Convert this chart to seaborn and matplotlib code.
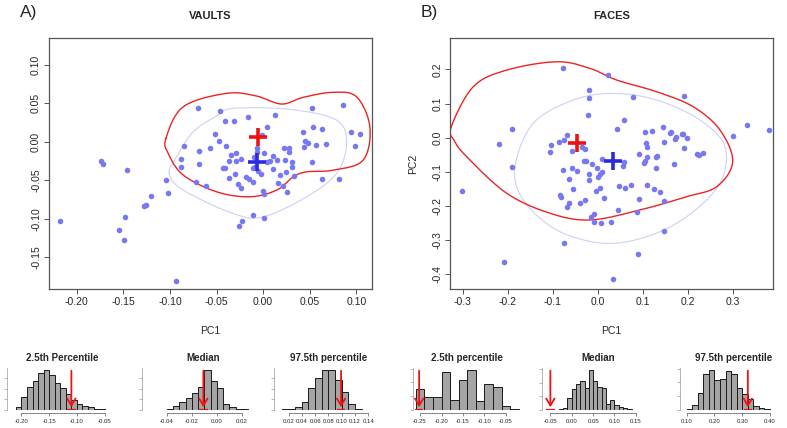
import numpy as np
import pandas as pd
import matplotlib
matplotlib.use('Agg')
import matplotlib.pyplot as plt
import seaborn as sns

# scatter points (PC1, PC2)
vaults_pc1 = [-0.174, -0.1715, -0.146, -0.2175, -0.104, -0.102, -0.120, -0.1275, -0.1257, -0.1486,
              -0.155, -0.149, -0.094, -0.088, -0.0885, -0.069, -0.072, -0.070, -0.0847, -0.0464,
              -0.0414, -0.031, -0.016, 0.0125, 0.052, 0.0854, 0.0937, 0.1036, 0.098, 0.0533,
              0.0626, 0.0422, 0.045, 0.048, 0.0565, 0.0672, 0.0433, 0.0522, 0.0636, 0.0818,
              0.0043, -0.001, -0.0514, -0.0475, -0.040, -0.0575, -0.0689, -0.0614, -0.0343, -0.029,
              -0.037, -0.029, -0.0242, -0.0432, -0.0414, -0.030, -0.037, -0.027, -0.024, -0.0185,
              -0.0153, -0.0107, -0.007, -0.0064, 0.001, -0.010, -0.0086, -0.0114, -0.006, -0.0028,
              0.004, 0.0069, 0.0104, 0.0107, 0.015, 0.0229, 0.0219, 0.0272, 0.0275, 0.0304,
              0.0304, 0.024, 0.0176, 0.0329, 0.0154, 0.0211, 0.0254, 0.0, 0.0008, -0.0114,
              0.0008, -0.0232, -0.026]
vaults_pc2 = [-0.025, -0.029, -0.037, -0.103, -0.049, -0.066, -0.070, -0.0835, -0.082, -0.0974,
              -0.114, -0.128, -0.180, -0.0225, -0.0325, -0.029, -0.052, 0.044, -0.0052, 0.0395,
              0.0269, 0.0265, 0.032, 0.0343, 0.0438, 0.048, 0.013, 0.010, -0.006, 0.0187,
              0.0165, 0.0126, 0.0005, -0.0013, -0.0039, -0.0034, -0.0065, -0.0264, -0.048, -0.048,
              0.0195, 0.009, 0.010, 0.0009, -0.0056, -0.0086, -0.0121, -0.0567, -0.0173, -0.0147,
              -0.0247, -0.0247, -0.022, -0.0342, -0.0342, -0.0424, -0.0467, -0.055, -0.060, -0.0454,
              -0.0484, -0.0528, -0.0086, -0.0134, -0.0151, -0.0203, -0.0333, -0.0346, -0.0385, -0.042,
              -0.0264, -0.0255, -0.0355, -0.018, -0.023, -0.023, -0.0086, -0.0082, -0.0138, -0.0264,
              -0.0333, -0.039, -0.0437, -0.045, -0.0536, -0.0571, -0.0653, -0.064, -0.068, -0.0952,
              -0.0987, -0.1034, -0.1087]

faces_pc1 = [-0.0764, 0.0222, -0.0193, -0.0187, 0.0777, 0.1924, -0.0209, 0.0584, 0.0429, -0.1897,
             -0.2187, -0.1897, -0.3014, 0.3319, 0.3813, 0.3013, -0.0689, -0.0755, -0.0853, -0.1039,
             -0.1054, -0.0577, -0.0355, -0.0276, -0.0305, -0.0266, -0.0133, 0.0088, -0.0022, 0.0096,
             0.0058, 0.0007, -0.0193, -0.0200, -0.0778, -0.0571, -0.0459, -0.0631, -0.0549, -0.0846,
             -0.0824, -0.0642, -0.0682, -0.0394, -0.0290, -0.0045, 0.0051, 0.0147, -0.0155, -0.0089,
             -0.0089, 0.0067, 0.0302, 0.0451, 0.0466, 0.0607, 0.0740, 0.0584, 0.0563, 0.0926,
             0.1051, 0.1213, 0.1066, 0.1089, 0.1096, 0.1044, 0.1037, 0.1288, 0.1317, 0.1296,
             0.1451, 0.1470, 0.1600, 0.1636, 0.1718, 0.1748, 0.1867, 0.1896, 0.1991, 0.1924,
             0.2200, 0.2258, 0.2347, 0.1693, 0.0926, 0.1096, 0.1251, 0.1385, 0.1480, 0.0866,
             0.1470, -0.0755, 0.0889, -0.2076, 0.0333]
faces_pc2 = [0.2049, 0.1826, 0.1396, 0.117, 0.118, 0.123, 0.0673, 0.0527, 0.0255, 0.0255,
             -0.0176, -0.0858, -0.155, 0.038, 0.0225, 0.005, 0.007, -0.0059, -0.0117, -0.0205,
             -0.041, -0.038, -0.0281, -0.034, -0.068, -0.068, -0.078, -0.063, -0.0878, -0.0995,
             -0.106, -0.116, -0.106, -0.1238, -0.0955, -0.0887, -0.0966, -0.120, -0.151, -0.167,
             -0.1736, -0.192, -0.2019, -0.190, -0.182, -0.156, -0.146, -0.1775, -0.233, -0.2233,
             -0.2458, -0.2497, -0.2458, -0.2116, -0.1424, -0.1463, -0.1394, -0.0711, -0.0828, -0.0486,
             0.0167, 0.0196, -0.0165, -0.0263, -0.0565, -0.069, -0.075, -0.0575, -0.0546, -0.0877,
             0.0322, -0.0117, 0.0129, 0.0176, -0.0047, 0.0012, 0.0117, 0.0108, -0.0018, -0.031,
             -0.0477, -0.0497, -0.0439, -0.078, -0.1794, -0.1394, -0.151, -0.160, -0.1853, -0.2185,
             -0.273, -0.308, -0.3395, -0.3647, -0.4145]

# mean markers: (red, blue)
vaults_red = (-0.0054, 0.0057)
vaults_blue = (-0.007, -0.026)
faces_red = (-0.0467, -0.0165)
faces_blue = (0.0333, -0.0673)

# contour outlines
vaults_red_c1 = [-0.1043, -0.1018, -0.0857, -0.0499, -0.0143, 0.0144, 0.0322, 0.0465, 0.075, 0.1072,
                 0.1144, 0.1001, 0.075, 0.0429, 0.0197, -0.0071, -0.0392, -0.0857]
vaults_red_c2 = [0.0044, -0.0151, -0.0432, -0.0649, -0.0714, -0.0627, -0.0455, -0.039, -0.0368, -0.0238,
                 0.0195, 0.0584, 0.0642, 0.0577, 0.049, 0.0594, 0.0629, 0.0455]
vaults_blue_c1 = [-0.1008, -0.0857, -0.0322, 0.0, 0.0465, 0.0787, 0.0894, 0.0787, 0.0286, -0.0322,
                  -0.0499, -0.075, -0.0928]
vaults_blue_c2 = [-0.041, -0.0627, -0.093, -0.0974, -0.0714, -0.041, -0.0021, 0.0282, 0.0421, 0.0434,
                  0.0334, 0.013, -0.0195]
faces_red_c1 = [-0.3255, -0.3195, -0.2911, -0.2022, -0.1060, -0.0172, 0.0940, 0.1977, 0.2645, 0.3000,
                0.2718, 0.2124, 0.1311, 0.0422, -0.0172, -0.0911, -0.2022, -0.2765]
faces_red_c2 = [0.0322, -0.0067, -0.0556, -0.1627, -0.2212, -0.2409, -0.2116, -0.1727, -0.1434, -0.0702,
                0.0225, 0.0907, 0.1346, 0.1689, 0.2031, 0.2224, 0.1981, 0.1493]
faces_blue_c1 = [-0.1837, -0.1654, -0.0911, 0.0125, 0.1089, 0.1977, 0.2718, 0.2828, 0.2274, 0.1311,
                 0.0347, -0.0542, -0.1432]
faces_blue_c2 = [-0.0849, -0.1823, -0.2701, -0.309, -0.2897, -0.2312, -0.1335, -0.0263, 0.0518, 0.1103,
                 0.1299, 0.1103, 0.0421]

# bootstrap histograms: first bin edge, bin width, counts, observed value
hist_titles = ['2.5th Percentile', 'Median', '97.5th percentile',
               '2.5th percentile', 'Median', '97.5th percentile']
hist_start = [-0.21, -0.06, 0.01, -0.26, -0.03, 0.10]
hist_width = [0.01, 0.005, 0.01, 0.02, 0.01, 0.02]
hist_counts = [
    [13, 49, 88, 108, 140, 153, 131, 101, 85, 61, 38, 23, 16, 10, 5, 3, 1],
    [1, 1, 1, 1, 4, 20, 38, 56, 81, 108, 191, 139, 103, 29, 13, 5, 3],
    [3, 5, 13, 30, 81, 120, 152, 151, 113, 69, 22, 4, 1, 1],
    [62, 38, 38, 110, 29, 87, 117, 26, 75, 67, 12, 2],
    [2, 7, 35, 62, 77, 85, 65, 118, 85, 67, 65, 17, 30, 15, 9, 5, 2, 1, 1],
    [3, 14, 50, 103, 117, 88, 90, 112, 103, 63, 47, 33, 12, 5, 2, 1, 1],
]
hist_observed = [-0.110, -0.0107, 0.099, -0.252, -0.050, 0.32]
hist_xlim = [(-0.226, -0.026), (-0.0598, 0.0386), (-0.0018, 0.162),
             (-0.2663, -0.0174), (-0.0696, 0.195), (0.076, 0.461)]
hist_ticks = [[-0.20, -0.15, -0.10, -0.05], [-0.04, -0.02, 0.00, 0.02],
              [0.02, 0.04, 0.06, 0.08, 0.10, 0.12, 0.14],
              [-0.25, -0.20, -0.15, -0.10, -0.05], [-0.05, 0.00, 0.05, 0.10, 0.15],
              [0.10, 0.20, 0.30, 0.40]]

sns.set_style('white')
plt.rcParams['font.family'] = ['Liberation Sans', 'DejaVu Sans']
plt.rcParams['axes.unicode_minus'] = False

W, H = 787, 428
fig = plt.figure(figsize=(W / 100, H / 100), dpi=100)


def px_axes(x0, x1, y0, y1):
    return fig.add_axes([x0 / W, 1 - y1 / H, (x1 - x0) / W, (y1 - y0) / H])


def closed_curve(cx, cy, n=30):
    # smooth closed Catmull-Rom curve through the outline points
    pts = np.column_stack([cx, cy])
    N = len(pts)
    t = np.linspace(0, 1, n, endpoint=False)[:, None]
    segs = []
    for i in range(N):
        p0, p1, p2, p3 = pts[i - 1], pts[i], pts[(i + 1) % N], pts[(i + 2) % N]
        segs.append(0.5 * (2 * p1 + (-p0 + p2) * t + (2 * p0 - 5 * p1 + 4 * p2 - p3) * t ** 2
                           + (-p0 + 3 * p1 - 3 * p2 + p3) * t ** 3))
    out = np.vstack(segs)
    return np.vstack([out, out[:1]])


def main_panel(ax, pc1, pc2, red_c, blue_c, red_m, blue_m, xlim, ylim, xt, yt, fmt):
    bc = closed_curve(*blue_c)
    ax.plot(bc[:, 0], bc[:, 1], color='#cfcff7', lw=0.8)
    rc = closed_curve(*red_c)
    ax.plot(rc[:, 0], rc[:, 1], color='#ee2222', lw=1.0)
    sns.scatterplot(x=pc1, y=pc2, ax=ax, color='#7878f2', s=16, linewidth=0, zorder=3)
    ax.plot(*red_m, marker='+', color='#ee1111', ms=13, mew=2.6, zorder=4)
    ax.plot(*blue_m, marker='+', color='#2b2bdd', ms=13, mew=2.6, zorder=4)
    ax.set_xlim(*xlim)
    ax.set_ylim(*ylim)
    ax.set_xticks(xt)
    ax.set_yticks(yt)
    ax.set_xticklabels([fmt % v for v in xt], fontsize=7.5)
    ax.set_yticklabels([fmt % v for v in yt], fontsize=7.5, rotation=90, va='center')
    ax.tick_params(length=3.5, width=0.7, color='#555555', direction='out',
                   bottom=True, left=True, pad=2)
    for s in ax.spines.values():
        s.set_color('#555555')
        s.set_linewidth(0.9)


ax_a = px_axes(48.7, 372, 38, 289)
main_panel(ax_a, vaults_pc1, vaults_pc2, (vaults_red_c1, vaults_red_c2),
           (vaults_blue_c1, vaults_blue_c2), vaults_red, vaults_blue,
           (-0.230, 0.1167), (-0.191, 0.1347),
           [-0.20, -0.15, -0.10, -0.05, 0.00, 0.05, 0.10],
           [-0.15, -0.10, -0.05, 0.00, 0.05, 0.10], '%.2f')
ax_a.set_xlabel('PC1', fontsize=7.5, labelpad=14)

ax_b = px_axes(450, 773, 38, 289)
main_panel(ax_b, faces_pc1, faces_pc2, (faces_red_c1, faces_red_c2),
           (faces_blue_c1, faces_blue_c2), faces_red, faces_blue,
           (-0.3282, 0.3896), (-0.443, 0.292),
           [-0.3, -0.2, -0.1, 0.0, 0.1, 0.2, 0.3],
           [-0.4, -0.3, -0.2, -0.1, 0.0, 0.1, 0.2], '%.1f')
ax_b.set_xlabel('PC1', fontsize=7.5, labelpad=14)
ax_b.set_ylabel('PC2', fontsize=7.5, labelpad=10)

fig.text(20 / W, 1 - 13 / H, 'A)', fontsize=12.5, va='center', ha='left')
fig.text(421 / W, 1 - 13 / H, 'B)', fontsize=12.5, va='center', ha='left')
fig.text(210 / W, 1 - 16 / H, 'VAULTS', fontsize=8, fontweight='bold', ha='center', va='center')
fig.text(611.5 / W, 1 - 16 / H, 'FACES', fontsize=8, fontweight='bold', ha='center', va='center')

hist_px = [(7, 118), (142, 265), (274, 383), (413, 520), (542, 655), (680, 787)]
for i in range(6):
    x0, x1 = hist_px[i]
    ax = px_axes(x0, x1, 368, 410)
    counts = np.array(hist_counts[i], dtype=float)
    edges = hist_start[i] + hist_width[i] * np.arange(len(counts) + 1)
    df = pd.DataFrame({'value': (edges[:-1] + edges[1:]) / 2, 'count': counts})
    sns.histplot(data=df, x='value', weights='count', bins=edges.tolist(), ax=ax,
                 color='#a5a5a5', edgecolor='#1a1a1a', linewidth=0.7, alpha=1)
    sns.despine(ax=ax, top=True, right=True)
    ax.spines['bottom'].set_position(('outward', 2))
    ax.set_xlim(*hist_xlim[i])
    ax.set_ylim(0, counts.max() * 1.04)
    ax.set_ylabel('')
    ax.set_xlabel('')
    xt = hist_ticks[i]
    ax.set_xticks(xt)
    ax.set_xticklabels(['%.2f' % v for v in xt])
    ax.yaxis.set_major_locator(matplotlib.ticker.MaxNLocator(4))
    ax.set_yticklabels([])
    ax.tick_params(axis='x', length=2, width=0.5, color='#555555', pad=2.5, bottom=True,
                   labelsize=4.3)
    ax.tick_params(axis='y', length=2, width=0.5, color='#999999', left=True)
    ax.spines['left'].set_color('#999999')
    ax.spines['left'].set_linewidth(0.5)
    ax.spines['bottom'].set_bounds(xt[0], xt[-1])
    ax.spines['bottom'].set_linewidth(0.5)
    ax.spines['bottom'].set_color('#555555')
    obs = hist_observed[i]
    span = hist_xlim[i][1] - hist_xlim[i][0]
    ax.plot([obs - span * 0.04, obs + span * 0.04], [0, 0], color='#ee1111', lw=1.6,
            solid_capstyle='butt', zorder=5)
    ax.annotate('', xy=(obs, 0), xycoords=('data', 'axes fraction'),
                xytext=(obs, 1.0), textcoords=('data', 'axes fraction'),
                arrowprops=dict(arrowstyle='->,head_length=0.5,head_width=0.3',
                                color='#ee1111', lw=1.3), annotation_clip=False, zorder=6)
    ax.set_title(hist_titles[i], fontsize=7, fontweight='bold', pad=5)

fig.savefig('out.png', dpi=100)
